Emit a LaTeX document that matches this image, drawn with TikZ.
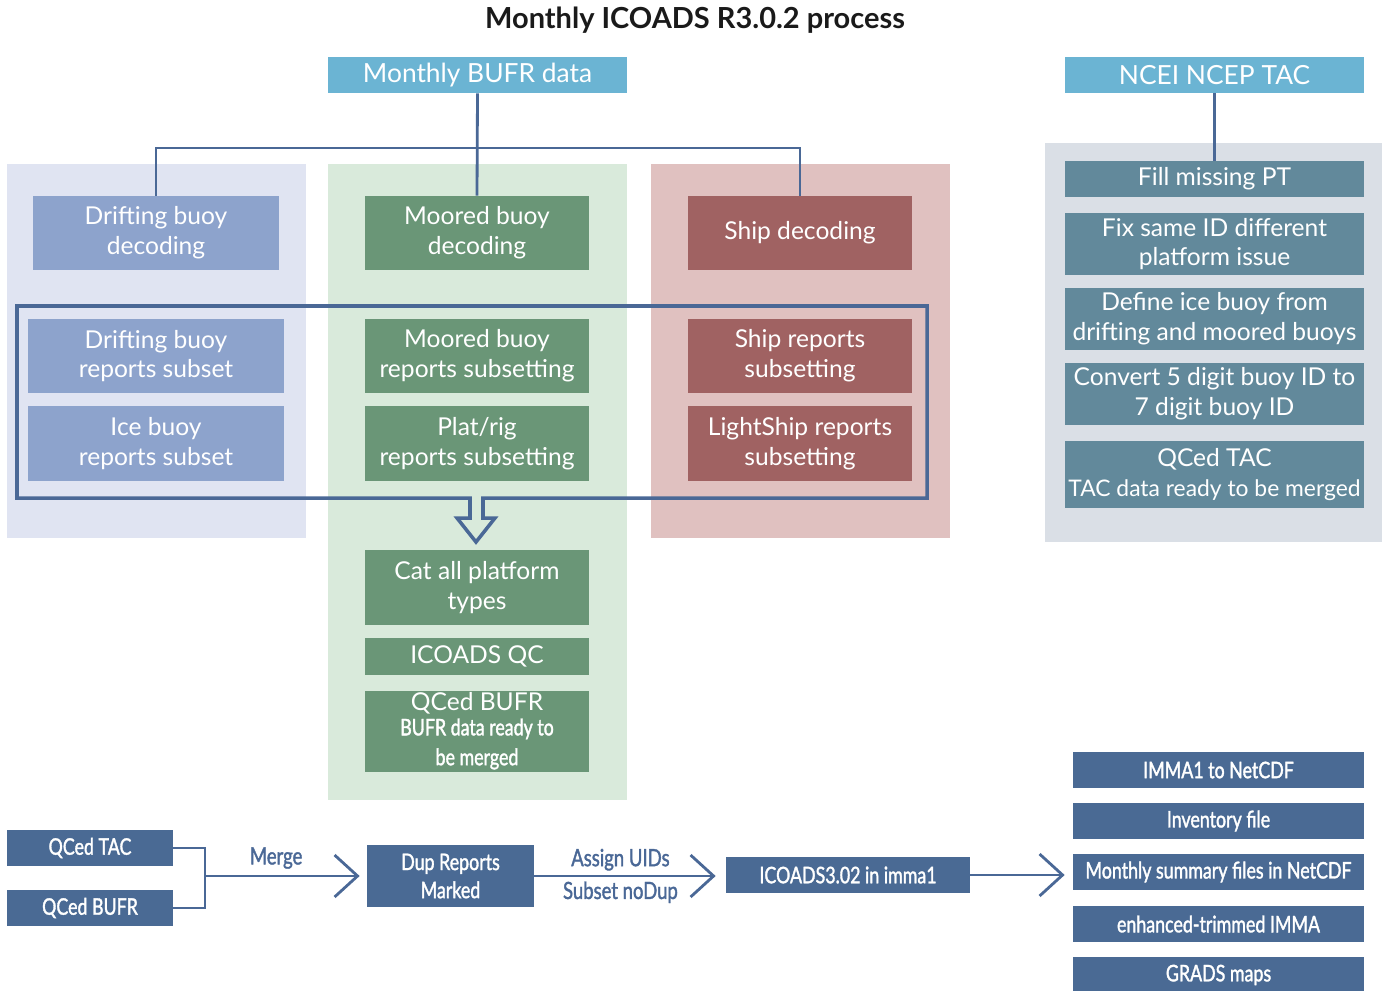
\documentclass[tikz,border=0pt]{standalone}
\usepackage{fontspec}
\setmainfont{Lato}
\newfontfamily\condfont[FakeStretch=0.78, FakeBold=1.5]{Lato}
\usetikzlibrary{arrows.meta}

\definecolor{titlec}{HTML}{1A1A1A}
\definecolor{headc}{HTML}{6BB4D3}
\definecolor{linec}{HTML}{4A6896}
\definecolor{bluebg}{HTML}{E0E4F2}
\definecolor{bluebox}{HTML}{8DA3CC}
\definecolor{greenbg}{HTML}{D9EADB}
\definecolor{greenbox}{HTML}{6A9677}
\definecolor{redbg}{HTML}{E0C1C0}
\definecolor{redbox}{HTML}{A06262}
\definecolor{graybg}{HTML}{DADFE6}
\definecolor{tealbox}{HTML}{62899B}
\definecolor{darkbox}{HTML}{4A6A94}

\newcommand{\condtext}{\condfont\fontsize{13}{14}\selectfont}

\tikzset{
  wh/.style 2 args={minimum width=#1*0.02cm, minimum height=#2*0.02cm},
  panel/.style={inner sep=0pt},
  box/.style={inner sep=0pt, text=white, align=center, font=\fontsize{14}{17}\selectfont},
  cbox/.style={box, fill=darkbox, font=\condfont\fontsize{13}{16}\selectfont},
  lbl/.style={text=linec, font=\condfont\fontsize{13.5}{16}\selectfont},
  link/.style={draw=linec, line width=1.6pt},
  arr/.style={link, -{Straight Barb[length=0.46cm,width=0.84cm]}},
}

\begin{document}
\begin{tikzpicture}[x=0.02cm,y=-0.02cm]
\useasboundingbox (0,0) rectangle (1387,991);

\node[font=\bfseries\fontsize{16.5}{19}\selectfont, text=titlec] (title) at (695,20) {Monthly ICOADS R3.0.2 process};

% panels
\node[panel, fill=bluebg, wh={299}{374}] (pdrift) at (156.5,351) {};
\node[panel, fill=greenbg, wh={299}{636}] (pmoor) at (477.5,482) {};
\node[panel, fill=redbg, wh={299}{374}] (pship) at (800.5,351) {};
\node[panel, fill=graybg, wh={337}{399}] (ptac) at (1213.5,342.5) {};

% sources
\node[box, fill=headc, font=\fontsize{15}{18}\selectfont, wh={299}{36}] (bufr) at (477.5,75) {Monthly BUFR data};
\node[box, fill=headc, font=\fontsize{15}{18}\selectfont, wh={299}{36}] (ncei) at (1214.5,75) {NCEI NCEP TAC};

% drifting buoys
\node[box, fill=bluebox, wh={246}{74}] (ddec) at (156,233) {Drifting buoy\\decoding};
\node[box, fill=bluebox, wh={256}{74}] (dsub) at (156,356) {Drifting buoy\\reports subset};
\node[box, fill=bluebox, wh={256}{75}] (isub) at (156,443.5) {Ice buoy\\reports subset};

% moored buoys
\node[box, fill=greenbox, wh={224}{74}] (mdec) at (477,233) {Moored buoy\\decoding};
\node[box, fill=greenbox, wh={224}{74}] (msub) at (477,356) {Moored buoy\\reports subsetting};
\node[box, fill=greenbox, wh={224}{75}] (psub) at (477,443.5) {Plat/rig\\reports subsetting};
\node[box, fill=greenbox, wh={224}{75}] (cat) at (477,587.5) {Cat all platform\\types};
\node[box, fill=greenbox, wh={224}{37}] (qc) at (477,656.5) {ICOADS QC};
\node[box, fill=greenbox, wh={224}{81}] (bufrok) at (477,731) {QCed BUFR\\[-3pt]\condtext BUFR data ready to\\\condtext be merged};

% ships
\node[box, fill=redbox, wh={224}{74}] (sdec) at (800,233) {Ship decoding};
\node[box, fill=redbox, wh={224}{74}] (ssub) at (800,356) {Ship reports\\subsetting};
\node[box, fill=redbox, wh={224}{75}] (lsub) at (800,443.5) {LightShip reports\\subsetting};

% TAC
\node[box, fill=tealbox, wh={299}{36}] (fillpt) at (1214.5,179) {Fill missing PT};
\node[box, fill=tealbox, wh={299}{62}] (fixid) at (1214.5,244) {Fix same ID different\\platform issue};
\node[box, fill=tealbox, wh={299}{62}] (defice) at (1214.5,319) {Define ice buoy from\\drifting and moored buoys};
\node[box, fill=tealbox, wh={299}{62}] (conv) at (1214.5,394) {Convert 5 digit buoy ID to\\7 digit buoy ID};
\node[box, fill=tealbox, wh={299}{67}] (tacok) at (1214.5,474.5) {QCed TAC\\\fontsize{13}{16}\selectfont TAC data ready to be merged};

% merge
\node[cbox, wh={166}{36}] (qtac) at (90,848) {QCed TAC};
\node[cbox, wh={166}{36}] (qbufr) at (90,908) {QCed BUFR};
\node[cbox, wh={167}{62}] (dup) at (450.5,876) {Dup Reports\\Marked};
\node[cbox, wh={244}{36}] (imma) at (848,875) {ICOADS3.02 in imma1};
\node[cbox, wh={291}{36}] (netcdf) at (1218.5,770) {IMMA1 to NetCDF};
\node[cbox, wh={291}{36}] (inv) at (1218.5,821) {Inventory file};
\node[cbox, wh={291}{36}] (summ) at (1218.5,872) {Monthly summary files in NetCDF};
\node[cbox, wh={291}{36}] (trim) at (1218.5,924) {enhanced-trimmed IMMA};
\node[cbox, wh={291}{36}] (grads) at (1218.5,975) {GRADS maps};

% connectors
\coordinate (split) at (477,148);
\draw[link] (bufr.south) -- (mdec.north);
\draw[link] (ddec.north) |- (split) -| (sdec.north);
\draw[link] (ncei.south) -- (fillpt.north);

% subsetting frame with hollow arrow
\draw[link, line width=2pt, line join=miter]
  (470,498) -- (17,498) -- (17,306) -- (927,306) -- (927,498) -- (483,498)
  -- (483,518) -- (495,518) -- (476,542) -- (457,518) -- (470,518) -- cycle;

\coordinate (join) at (205,876);
\draw[link] (qtac.east) -| (join) |- (qbufr.east);
\draw[arr, shorten >=0.14cm] (join) -- (dup.west)
  node[lbl, pos=0.44, above=0pt] (mergelbl) {Merge};
\draw[arr, shorten >=0.2cm] (dup.east) -- (dup.east -| imma.west)
  node[lbl, pos=0.45, above=-1pt] (uidlbl) {Assign UIDs}
  node[lbl, pos=0.45, below=-1pt] (nduplbl) {Subset noDup};
\draw[arr, shorten >=0.16cm] (imma.east) -- (imma.east -| summ.west);
\end{tikzpicture}
\end{document}
